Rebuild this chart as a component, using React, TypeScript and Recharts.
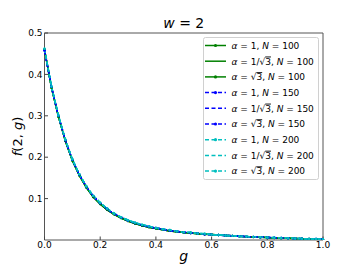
import React from 'react';
import { LineChart, Line, XAxis, YAxis, Legend, ReferenceArea, Label, Customized } from 'recharts';

const gValues = [
  0, 0.025, 0.05, 0.075, 0.1, 0.125, 0.15, 0.175, 0.2, 0.225,
  0.25, 0.275, 0.3, 0.325, 0.35, 0.375, 0.4, 0.425, 0.45, 0.475,
  0.5, 0.525, 0.55, 0.575, 0.6, 0.625, 0.65, 0.675, 0.7, 0.725,
  0.75, 0.775, 0.8, 0.825, 0.85, 0.875, 0.9, 0.925, 0.95, 0.975, 1.0,
];
const fN100 = [
  0.46, 0.368, 0.298, 0.239, 0.192, 0.156, 0.127, 0.104, 0.087, 0.073,
  0.062, 0.053, 0.046, 0.04, 0.035, 0.031, 0.028, 0.025, 0.022, 0.02,
  0.018, 0.017, 0.015, 0.014, 0.013, 0.012, 0.011, 0.01, 0.009, 0.008,
  0.007, 0.0065, 0.006, 0.005, 0.0045, 0.004, 0.0035, 0.003, 0.0025, 0.002, 0.002,
];
const fN150 = [
  0.458, 0.37, 0.3, 0.241, 0.194, 0.158, 0.129, 0.106, 0.089, 0.075,
  0.063, 0.055, 0.047, 0.041, 0.036, 0.032, 0.029, 0.026, 0.023, 0.021,
  0.019, 0.017, 0.016, 0.014, 0.013, 0.012, 0.011, 0.01, 0.009, 0.008,
  0.0075, 0.0068, 0.006, 0.0055, 0.0048, 0.0042, 0.0036, 0.0031, 0.0027, 0.0023, 0.002,
];
const fN200 = [
  0.462, 0.371, 0.301, 0.242, 0.195, 0.159, 0.13, 0.107, 0.09, 0.076,
  0.064, 0.055, 0.048, 0.042, 0.037, 0.033, 0.029, 0.026, 0.024, 0.021,
  0.019, 0.018, 0.016, 0.015, 0.013, 0.012, 0.011, 0.01, 0.0092, 0.0083,
  0.0076, 0.0069, 0.0062, 0.0056, 0.005, 0.0044, 0.0038, 0.0033, 0.0028, 0.0024, 0.0021,
];
const xTicks = [0, 0.2, 0.4, 0.6, 0.8, 1.0];
const yTicks = [0.1, 0.2, 0.3, 0.4, 0.5];
const alphaLabels = ['1', '1/√3', '√3'];
const nValues = [100, 150, 200];
const nColors = ['#008000', '#0000ff', '#00bfbf'];
const nDashes = [undefined, '4 2.5', '4 2.5'];
const alphaHasMarker = [true, false, true];

const nArrays = [fN100, fN150, fN200];

type Series = { key: string; n: number; ai: number; ni: number; color: string; dash?: string; marker: boolean };
const seriesList: Series[] = [];
nValues.forEach((n, ni) => {
  alphaLabels.forEach((_, ai) => {
    seriesList.push({
      key: `s_${n}_${ai}`,
      n,
      ai,
      ni,
      color: nColors[ni],
      dash: nDashes[ni],
      marker: alphaHasMarker[ai],
    });
  });
});

const data = gValues.map((g, i) => {
  const row: Record<string, number> = { g };
  seriesList.forEach((s) => {
    row[s.key] = nArrays[s.ni][i];
  });
  return row;
});

const FONT = 'DejaVu Sans, sans-serif';

const AlphaText = ({ ai }: { ai: number }) => {
  if (ai === 0) return <tspan>1</tspan>;
  if (ai === 1)
    return (
      <>
        <tspan>1/√</tspan>
        <tspan style={{ textDecoration: 'overline' }}>3</tspan>
      </>
    );
  return (
    <>
      <tspan>√</tspan>
      <tspan style={{ textDecoration: 'overline' }}>3</tspan>
    </>
  );
};

const LegendBox = () => {
  const w = 116;
  const h = 143;
  return (
    <svg width={w} height={h} style={{ display: 'block' }}>
      <rect x={0.5} y={0.5} width={w - 1} height={h - 1} rx={2} fill="#fff" fillOpacity={0.8} stroke="#d0d0d0" />
      {seriesList.map((s, i) => {
        const cy = 8.5 + 15.7 * i;
        return (
          <g key={s.key}>
            <line x1={2} x2={23} y1={cy} y2={cy} stroke={s.color} strokeWidth={1.5} strokeDasharray={s.dash} />
            {s.marker && <circle cx={12.5} cy={cy} r={1.6} fill={s.color} />}
            <text x={28.5} y={cy + 3.3} fontSize={9} fontFamily={FONT} fill="#000">
              <tspan fontStyle="italic">α</tspan>
              <tspan> = </tspan>
              <AlphaText ai={s.ai} />
              <tspan>, </tspan>
              <tspan fontStyle="italic">N</tspan>
              <tspan>{` = ${s.n}`}</tspan>
            </text>
          </g>
        );
      })}
    </svg>
  );
};

const YLabel = (props: any) => {
  const vb = props.viewBox || { x: 0, y: 33, width: 44.5, height: 207 };
  const x = vb.x + 22;
  const y = vb.y + vb.height / 2;
  return (
    <text x={x} y={y} transform={`rotate(-90 ${x} ${y})`} textAnchor="middle" fontSize={13} fontFamily={FONT} fill="#000">
      <tspan fontStyle="italic">f</tspan>
      <tspan>(2, </tspan>
      <tspan fontStyle="italic">g</tspan>
      <tspan>)</tspan>
    </text>
  );
};

const Title = () => (
  <text x={183.75} y={28} textAnchor="middle" fontSize={14} fontFamily={FONT} fill="#000">
    <tspan fontStyle="italic">w</tspan>
    <tspan> = 2</tspan>
  </text>
);

export default function App() {
  return (
    <div style={{ position: 'absolute', left: 0, top: 0, width: 360, height: 270, background: '#fff' }}>
      <LineChart width={360} height={270} data={data} margin={{ top: 33, right: 37, left: 0, bottom: 0 }}>
        <XAxis
          dataKey="g"
          type="number"
          domain={[0, 1]}
          ticks={xTicks}
          tickFormatter={(v: number) => v.toFixed(1)}
          height={30}
          axisLine={false}
          tickSize={-3.5}
          tickMargin={5.5}
          tickLine={{ stroke: '#444', strokeWidth: 1 }}
          tick={{ fontSize: 9, fontFamily: FONT, fill: '#000' }}
          interval={0}
        >
          <Label
            position="insideBottom"
            offset={9}
            content={(p: any) => {
              const vb = p.viewBox;
              return (
                <text x={vb.x + vb.width / 2} y={vb.y + vb.height - 9} textAnchor="middle" fontSize={14} fontStyle="italic" fontFamily={FONT} fill="#000">
                  g
                </text>
              );
            }}
          />
        </XAxis>
        <YAxis
          type="number"
          domain={[0, 0.5]}
          ticks={yTicks}
          tickFormatter={(v: number) => v.toFixed(1)}
          width={44.5}
          axisLine={false}
          tickSize={-3.5}
          tickMargin={5.5}
          tickLine={{ stroke: '#444', strokeWidth: 1 }}
          tick={{ fontSize: 9, fontFamily: FONT, fill: '#000' }}
          interval={0}
          allowDataOverflow
        >
          <Label content={(p: any) => <YLabel {...p} />} />
        </YAxis>
        {seriesList.map((s) => (
          <Line
            key={s.key}
            dataKey={s.key}
            type="linear"
            stroke={s.color}
            strokeWidth={1.5}
            strokeDasharray={s.dash}
            dot={s.marker ? { r: 1.2, fill: s.color, stroke: s.color, strokeWidth: 0 } : false}
            activeDot={false}
            isAnimationActive={false}
          />
        ))}
        <ReferenceArea x1={0} x2={1} y1={0} y2={0.5} fill="none" stroke="#555" strokeWidth={1} ifOverflow="visible" />
        <Legend
          layout="vertical"
          align="center"
          verticalAlign="middle"
          content={() => <LegendBox />}
          wrapperStyle={{ position: 'absolute', left: 203, top: 37, width: 116, height: 143 }}
        />
        <Customized component={Title} />
      </LineChart>
    </div>
  );
}
